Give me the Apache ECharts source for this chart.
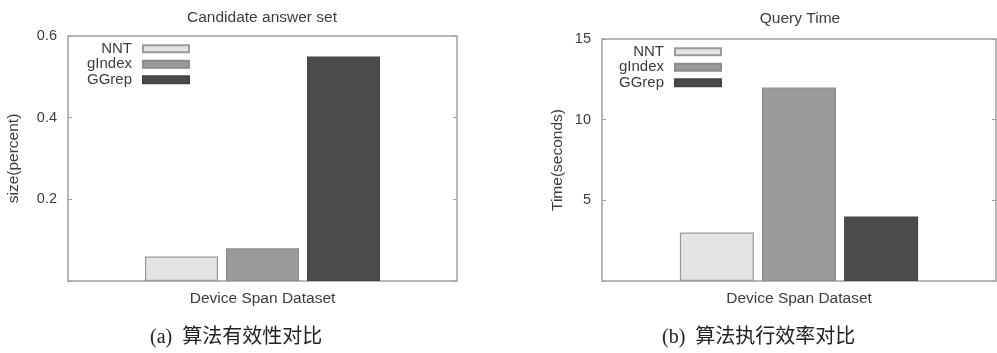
<!DOCTYPE html>
<html>
<head>
<meta charset="utf-8">
<script src="https://cdn.jsdelivr.net/npm/echarts@6/dist/echarts.min.js"></script>
<style>
  html, body { margin: 0; padding: 0; background: #fff; }
  #chart { width: 997px; height: 353px; }
</style>
</head>
<body>
<div id="chart"></div>
<script>
// Shared category and series names
const categories = ['Device Span Dataset'];
const seriesNames = ['NNT', 'gIndex', 'GGrep'];

// (a) candidate answer set size, as a fraction
const sizeValues = [0.06, 0.08, 0.55];
const sizeTicks = [0.2, 0.4, 0.6];

// (b) query time in seconds
const timeValues = [3, 12, 4];
const timeTicks = [5, 10, 15];

const panelTitles = ['Candidate answer set', 'Query Time'];
const axisNames = ['size(percent)', 'Time(seconds)'];
const captions = ['(a)  算法有效性对比', '(b)  算法执行效率对比'];

const fills = ['#e4e4e4', '#9a9a9a', '#4b4b4b'];
const borders = ['#9a9a9a', '#8c8c8c', '#444444'];
const textColor = '#3c3c3c';
const frameColor = '#a0a0a0';
const sansFont = 'Liberation Sans, Arial, sans-serif';

const chart = echarts.init(document.getElementById('chart'));

// Only the listed tick values get a label (zero stays blank)
function tickFormatter(ticks) {
  return function (v) {
    for (const t of ticks) {
      if (Math.abs(v - t) < 1e-9) return String(t);
    }
    return '';
  };
}

// Left axis with labels plus a mirrored right axis carrying only inner ticks
function yAxesFor(gridIndex, max, interval, ticks, name) {
  return [
    {
      type: 'value', gridIndex, min: 0, max, interval,
      name, nameLocation: 'middle', nameGap: gridIndex === 0 ? 46 : 36,
      nameTextStyle: { fontSize: 15.5, color: textColor, fontFamily: sansFont },
      axisLine: { show: false },
      axisTick: { show: true, inside: true, length: 4, lineStyle: { color: frameColor } },
      axisLabel: { fontSize: 14.5, color: textColor, fontFamily: sansFont, margin: 11, formatter: tickFormatter(ticks) },
      splitLine: { show: false }
    },
    {
      type: 'value', gridIndex, min: 0, max, interval, position: 'right',
      axisLine: { show: false },
      axisTick: { show: true, inside: true, length: 4, lineStyle: { color: frameColor } },
      axisLabel: { show: false },
      splitLine: { show: false }
    }
  ];
}

function barSeries(values, xAxisIndex, yAxisIndex, width) {
  return seriesNames.map((name, i) => ({
    name, type: 'bar', xAxisIndex, yAxisIndex,
    data: [values[i]],
    barWidth: width, barGap: '11%',
    itemStyle: { color: fills[i], borderColor: borders[i], borderWidth: 1.2 }
  }));
}

function legendFor(right, top) {
  return {
    data: seriesNames, orient: 'vertical', align: 'right',
    right, top, padding: 0, itemGap: 0,
    itemWidth: 46, itemHeight: 7, icon: 'rect',
    selectedMode: false,
    textStyle: { fontSize: 15, color: textColor, fontFamily: sansFont, lineHeight: 15.5, padding: [0, 6, 0, 0] }
  };
}

const yA = yAxesFor(0, 0.6, 0.2, sizeTicks, axisNames[0]);
const yB = yAxesFor(1, 15, 5, timeTicks, axisNames[1]);

chart.setOption({
  animation: false,
  backgroundColor: '#fff',
  title: [
    { text: panelTitles[0], left: 257, top: 5, textAlign: 'center',
      textStyle: { fontSize: 15.5, fontWeight: 'normal', color: textColor, fontFamily: sansFont } },
    { text: panelTitles[1], left: 795, top: 6, textAlign: 'center',
      textStyle: { fontSize: 15.5, fontWeight: 'normal', color: textColor, fontFamily: sansFont } }
  ],
  legend: [legendFor(807, 41), legendFor(275, 44)],
  grid: [
    { left: 68, right: 540, top: 36, bottom: 72, show: true, borderColor: frameColor, borderWidth: 1.5, backgroundColor: '#fff' },
    { left: 602, right: 1, top: 39, bottom: 72, show: true, borderColor: frameColor, borderWidth: 1.5, backgroundColor: '#fff' }
  ],
  xAxis: [0, 1].map(g => ({
    type: 'category', gridIndex: g, data: categories,
    axisLine: { show: false }, axisTick: { show: false },
    axisLabel: { fontSize: 15.5, color: textColor, fontFamily: sansFont, margin: 10 }
  })),
  yAxis: [...yA, ...yB],
  series: [
    ...barSeries(sizeValues, 0, 0, 73),
    ...barSeries(timeValues, 1, 2, 74)
  ],
  graphic: [
    { type: 'text', left: 150, top: 328,
      style: { text: captions[0], fontSize: 20, fill: '#222', fontFamily: 'Liberation Serif, "Noto Sans CJK SC", serif' } },
    { type: 'text', left: 662, top: 328,
      style: { text: captions[1], fontSize: 20, fill: '#222', fontFamily: 'Liberation Serif, "Noto Sans CJK SC", serif' } }
  ]
});
</script>
</body>
</html>
